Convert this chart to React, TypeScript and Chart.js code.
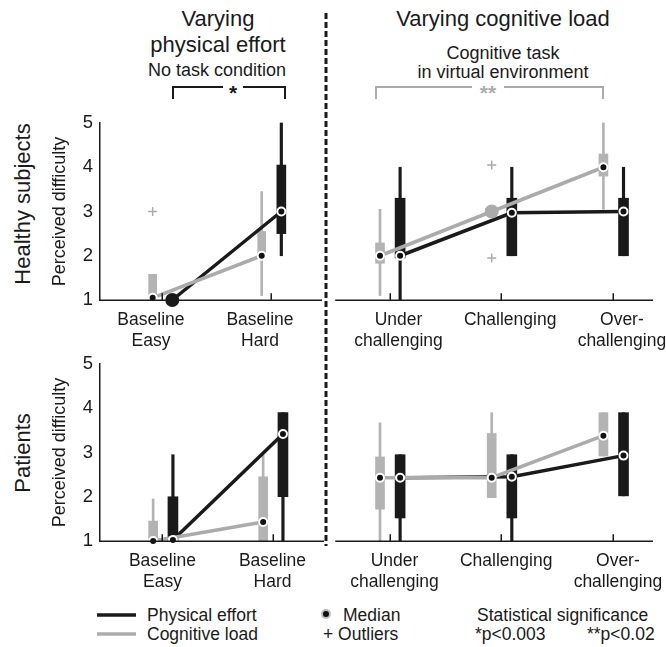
import React, { useEffect, useRef } from "react";
import { Chart, registerables } from "chart.js";
Chart.register(...registerables);

// ---------- categories & ticks ----------
const baselineCategories: string[][] = [["Baseline", "Easy"], ["Baseline", "Hard"]];
const taskCategories: string[][] = [["Under", "challenging"], ["Challenging"], ["Over-", "challenging"]];
const difficultyTicks = [1, 2, 3, 4, 5];

// ---------- Healthy subjects: varying physical effort (no task) ----------
const hBasePhysMedian = [1, 3];
const hBasePhysBox = [[1, 1], [2.5, 4.05]];
const hBasePhysWhisker = [[1, 1], [2, 5]];
const hBasePhysOutliers: number[][] = [[], []];
const hBaseCogMedian = [1.05, 2];
const hBaseCogBox = [[1, 1.58], [2, 2.55]];
const hBaseCogWhisker = [[1, 1.58], [1.1, 3.45]];
const hBaseCogOutliers: number[][] = [[3], []];

// ---------- Healthy subjects: varying cognitive load ----------
const hTaskPhysMedian = [2, 2.97, 3];
const hTaskPhysBox = [[1.95, 3.3], [2, 3.3], [2, 3.3]];
const hTaskPhysWhisker = [[1, 4], [2, 4], [2, 4]];
const hTaskPhysOutliers: number[][] = [[], [], []];
const hTaskCogMedian = [2, 3, 4];
const hTaskCogBox = [[1.83, 2.29], [3, 3], [3.8, 4.3]];
const hTaskCogWhisker = [[1.1, 3.05], [3, 3], [3.05, 5]];
const hTaskCogOutliers: number[][] = [[], [4.05, 1.95], []];

// ---------- Patients: varying physical effort (no task) ----------
const pBasePhysMedian = [1.02, 3.42];
const pBasePhysBox = [[1, 2], [2, 3.9]];
const pBasePhysWhisker = [[1, 2.95], [1, 3.9]];
const pBasePhysOutliers: number[][] = [[], []];
const pBaseCogMedian = [1, 1.43];
const pBaseCogBox = [[1, 1.45], [1, 2.45]];
const pBaseCogWhisker = [[1, 1.95], [1, 2.95]];
const pBaseCogOutliers: number[][] = [[], []];

// ---------- Patients: varying cognitive load ----------
const pTaskPhysMedian = [2.43, 2.45, 2.93];
const pTaskPhysBox = [[1.52, 2.95], [1.52, 2.95], [2.02, 3.9]];
const pTaskPhysWhisker = [[1, 2.95], [1, 2.95], [2.02, 3.9]];
const pTaskPhysOutliers: number[][] = [[], [], []];
const pTaskCogMedian = [2.43, 2.43, 3.38];
const pTaskCogBox = [[1.72, 2.9], [1.98, 3.43], [2.92, 3.9]];
const pTaskCogWhisker = [[1, 3.67], [1.98, 3.9], [2.92, 3.9]];
const pTaskCogOutliers: number[][] = [[], [], []];

// ---------- styling ----------
const FONT = "'Liberation Sans', Arial, Helvetica, sans-serif";
const BLACK = "#1a1a1a";
const GRAY = "#ababab";
const GRAY_BOX = "#b3b3b3";

Chart.defaults.font.family = FONT;

type Series = { median: number[]; box: number[][]; whisker: number[][]; outliers: number[][] };

type PanelCfg = {
  left: number; top: number; w: number; h: number;
  cats: string[][];
  phys: Series; cog: Series;
  showY: boolean;
  xMin: number; xMax: number;
  labelOffset: number;
  padLeft: number; padRight: number;
  boxW: number;
};

// x-axis baseline with inward tick marks, drawn through the x scale
const xAxisLinePlugin = {
  id: "xAxisLine",
  afterDraw(chart: any) {
    const { ctx } = chart;
    const xs = chart.scales.x;
    const yb = Math.round(xs.top) + 0.25;
    ctx.save();
    ctx.setLineDash([]);
    ctx.strokeStyle = BLACK;
    ctx.lineWidth = 1.5;
    ctx.beginPath();
    ctx.moveTo(xs.left - 0.75, yb);
    ctx.lineTo(xs.right, yb);
    xs.ticks.forEach((t: any) => {
      const px = Math.round(xs.getPixelForValue(t.value)) + 0.25;
      ctx.moveTo(px, yb);
      ctx.lineTo(px, yb - 7);
    });
    ctx.stroke();
    ctx.restore();
  },
};

function seriesDatasets(s: Series, off: number, color: string, boxColor: string, boxW: number, whiskW: number, lineOrder: number): any[] {
  const xs = s.median.map((_, i) => i + 1 + off);
  const degenerate = s.box.map((b) => b[0] === b[1]);
  const medPts = s.median.map((m, i) => ({ x: xs[i], y: m }));
  const outPts = s.outliers.flatMap((arr, i) => arr.map((v) => ({ x: xs[i], y: v })));
  return [
    {
      type: "bar",
      data: s.whisker.map((w, i) => ({ x: xs[i], y: w })),
      backgroundColor: boxColor,
      barThickness: whiskW,
      grouped: false,
      borderWidth: 0,
      order: 7,
      clip: false,
    },
    {
      type: "bar",
      data: s.box.map((b, i) => ({ x: xs[i], y: b })),
      backgroundColor: boxColor,
      barThickness: boxW,
      grouped: false,
      borderWidth: 0,
      order: 6,
      clip: false,
    },
    {
      type: "line",
      data: medPts,
      borderColor: color,
      borderWidth: 3.5,
      pointRadius: 0,
      tension: 0,
      fill: false,
      order: lineOrder,
      clip: false,
    },
    {
      type: "line",
      data: outPts,
      showLine: false,
      fill: false,
      pointStyle: "cross",
      pointRadius: 4.5,
      pointBorderColor: GRAY,
      pointBorderWidth: 1.5,
      order: 4,
      clip: false,
    },
    {
      type: "line",
      data: medPts,
      showLine: false,
      fill: false,
      pointRadius: degenerate.map((d) => (d ? 6 : 4)),
      pointBackgroundColor: degenerate.map((d) => (d ? color : "#111111")),
      pointBorderColor: degenerate.map((d) => (d ? color : "#ffffff")),
      pointBorderWidth: 2,
      order: 0,
      clip: false,
    },
  ];
}

function buildConfig(p: PanelCfg): any {
  const datasets = [
    ...seriesDatasets(p.cog, -0.085, GRAY, GRAY_BOX, p.boxW - 1, 2, 2),
    ...seriesDatasets(p.phys, 0.095, BLACK, BLACK, p.boxW, 2.5, 3),
  ];
  return {
    type: "bar",
    data: { datasets },
    plugins: [xAxisLinePlugin],
    options: {
      animation: false,
      responsive: false,
      events: [],
      layout: { padding: { top: 15, left: p.padLeft, right: p.padRight, bottom: 0 } },
      plugins: { legend: { display: false }, tooltip: { enabled: false } },
      scales: {
        x: {
          type: "linear",
          position: "bottom",
          min: p.xMin,
          max: p.xMax,
          offset: false,
          bounds: "data",
          afterBuildTicks: (s: any) => {
            s.ticks = p.cats.map((_, i) => ({ value: i + 1 }));
          },
          afterFit: (s: any) => {
            s.height = 58;
            s.paddingLeft = 0;
            s.paddingRight = 0;
          },
          ticks: {
            autoSkip: false,
            maxRotation: 0,
            minRotation: 0,
            color: BLACK,
            font: { size: 17.5, lineHeight: 1.2, family: FONT },
            padding: 9.5,
            labelOffset: p.labelOffset,
            callback: (v: number) => p.cats[Math.round(v) - 1],
          },
          grid: { display: false, drawTicks: false, offset: false },
          border: { display: false },
        },
        y: {
          type: "linear",
          display: true,
          min: 1,
          max: 5,
          beginAtZero: false,
          bounds: "data",
          afterBuildTicks: (s: any) => {
            s.ticks = difficultyTicks.map((v) => ({ value: v }));
          },
          afterFit: (s: any) => {
            s.width = p.showY ? 100 : 0;
            s.paddingTop = 0;
            s.paddingBottom = 0;
          },
          ticks: {
            display: p.showY,
            color: BLACK,
            font: { size: 18.5, family: FONT },
            padding: 7,
          },
          grid: { display: false, drawTicks: false },
          border: { display: p.showY, color: BLACK, width: 1.5 },
          title: {
            display: p.showY,
            text: "Perceived difficulty",
            color: BLACK,
            font: { size: 18, family: FONT },
            padding: { top: 49, bottom: 0 },
          },
        },
      },
    },
  };
}

function Panel({ cfg }: { cfg: PanelCfg }) {
  const ref = useRef<HTMLCanvasElement>(null);
  useEffect(() => {
    const chart = new Chart(ref.current as HTMLCanvasElement, buildConfig(cfg));
    return () => chart.destroy();
  }, []);
  return (
    <canvas
      ref={ref}
      width={cfg.w}
      height={cfg.h}
      style={{ position: "absolute", left: cfg.left, top: cfg.top, width: cfg.w, height: cfg.h }}
    />
  );
}

const panels: PanelCfg[] = [
  {
    left: 0, top: 108, w: 330, h: 250, cats: baselineCategories,
    phys: { median: hBasePhysMedian, box: hBasePhysBox, whisker: hBasePhysWhisker, outliers: hBasePhysOutliers },
    cog: { median: hBaseCogMedian, box: hBaseCogBox, whisker: hBaseCogWhisker, outliers: hBaseCogOutliers },
    showY: true, xMin: 0.432, xMax: 2.468, labelOffset: -11, padLeft: 0, padRight: 4, boxW: 9,
  },
  {
    left: 330, top: 108, w: 336, h: 250, cats: taskCategories,
    phys: { median: hTaskPhysMedian, box: hTaskPhysBox, whisker: hTaskPhysWhisker, outliers: hTaskPhysOutliers },
    cog: { median: hTaskCogMedian, box: hTaskCogBox, whisker: hTaskCogWhisker, outliers: hTaskCogOutliers },
    showY: false, xMin: 0.521, xMax: 3.359, labelOffset: 9, padLeft: 3, padRight: 13, boxW: 10,
  },
  {
    left: 0, top: 349, w: 330, h: 250, cats: baselineCategories,
    phys: { median: pBasePhysMedian, box: pBasePhysBox, whisker: pBasePhysWhisker, outliers: pBasePhysOutliers },
    cog: { median: pBaseCogMedian, box: pBaseCogBox, whisker: pBaseCogWhisker, outliers: pBaseCogOutliers },
    showY: true, xMin: 0.432, xMax: 2.468, labelOffset: 0, padLeft: 0, padRight: 4, boxW: 10,
  },
  {
    left: 330, top: 349, w: 336, h: 250, cats: taskCategories,
    phys: { median: pTaskPhysMedian, box: pTaskPhysBox, whisker: pTaskPhysWhisker, outliers: pTaskPhysOutliers },
    cog: { median: pTaskCogMedian, box: pTaskCogBox, whisker: pTaskCogWhisker, outliers: pTaskCogOutliers },
    showY: false, xMin: 0.521, xMax: 3.359, labelOffset: 5, padLeft: 3, padRight: 13, boxW: 10,
  },
];

function Overlay() {
  const t = (x: number, y: number, s: string, size: number, extra: any = {}) => (
    <text x={x} y={y} fontSize={size} textAnchor="middle" dominantBaseline="central" fill={BLACK} {...extra}>
      {s}
    </text>
  );
  const LS = 17.5;
  return (
    <svg width={666} height={647} style={{ position: "absolute", left: 0, top: 0 }} fontFamily={FONT}>
      {t(218, 18, "Varying", 22)}
      {t(218, 44, "physical effort", 22)}
      {t(217, 70, "No task condition", 18)}
      <path d="M173 99 V87 H223 M243 87 H285 V99" stroke={BLACK} strokeWidth={2} fill="none" />
      <text x={233} y={100} fontSize={21} fontWeight="bold" textAnchor="middle" fill={BLACK}>*</text>

      {t(503, 18, "Varying cognitive load", 22)}
      {t(503, 53, "Cognitive task", 18)}
      {t(503, 72, "in virtual environment", 18)}
      <path d="M376 99 V87 H472 M504 87 H603 V99" stroke={GRAY} strokeWidth={2} fill="none" />
      <text x={488} y={100} fontSize={21} fontWeight="bold" textAnchor="middle" fill={GRAY}>**</text>

      {t(22, 204, "Healthy subjects", 22, { transform: "rotate(-90 22 204)" })}
      {t(22, 453, "Patients", 22, { transform: "rotate(-90 22 453)" })}

      <line x1={97} y1={615} x2={136} y2={615} stroke={BLACK} strokeWidth={3.5} />
      <line x1={97} y1={634} x2={136} y2={634} stroke={GRAY} strokeWidth={3.5} />
      {t(147, 615, "Physical effort", LS, { textAnchor: "start" })}
      {t(147, 634, "Cognitive load", LS, { textAnchor: "start" })}
      <circle cx={326} cy={614} r={4} fill="#111111" stroke="#bdbdbd" strokeWidth={2} />
      {t(343, 615, "Median", LS, { textAnchor: "start" })}
      {t(323, 634, "+ Outliers", LS, { textAnchor: "start" })}
      {t(477, 615, "Statistical significance", LS, { textAnchor: "start" })}
      {t(475, 634, "*p<0.003", LS, { textAnchor: "start" })}
      {t(587, 634, "**p<0.02", LS, { textAnchor: "start" })}
    </svg>
  );
}

function Divider() {
  return (
    <svg width={666} height={647} style={{ position: "absolute", left: 0, top: 0, pointerEvents: "none" }}>
      <line x1={326} y1={13} x2={326} y2={546} stroke={BLACK} strokeWidth={3} strokeDasharray="6 3" />
    </svg>
  );
}

export default function App() {
  return (
    <div
      style={{
        position: "absolute",
        left: 0,
        top: 0,
        width: 666,
        height: 647,
        background: "#ffffff",
        overflow: "hidden",
      }}
    >
      <Overlay />
      {panels.map((p, i) => (
        <Panel key={i} cfg={p} />
      ))}
      <Divider />
    </div>
  );
}
